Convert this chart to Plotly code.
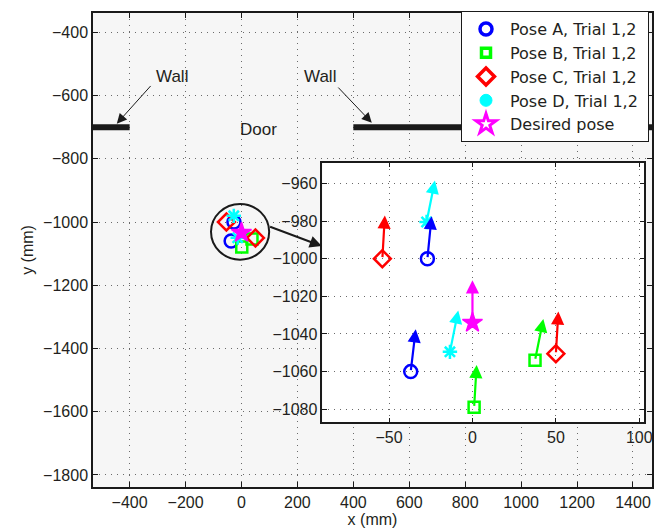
import plotly.graph_objects as go

# ---------------- data (mm) ----------------
pose_a_x = [-37, -27]
pose_a_y = [-1060, -1000]
pose_a_tip_x = [-34, -24.5]
pose_a_tip_y = [-1037.5, -977.5]

pose_b_x = [1, 37.5]
pose_b_y = [-1079, -1054]
pose_b_tip_x = [2.5, 42.5]
pose_b_tip_y = [-1056.5, -1032]

pose_c_x = [-54, 50]
pose_c_y = [-1000, -1050.5]
pose_c_tip_x = [-52.5, 51.5]
pose_c_tip_y = [-977, -1028]

pose_d_x = [-27.5, -13.5]
pose_d_y = [-980.5, -1049.5]
pose_d_tip_x = [-22.5, -8.5]
pose_d_tip_y = [-958.5, -1027.5]

desired_x = [0]
desired_y = [-1034]
desired_tip_x = [0]
desired_tip_y = [-1011.5]

legend_names = ["Pose A, Trial 1,2", "Pose B, Trial 1,2", "Pose C, Trial 1,2",
                "Pose D, Trial 1,2", "Desired pose"]

wall_left_x = [-531, -400]
wall_right_x = [400, 1468]
wall_y = [-700, -700]

main_xticks = [-400, -200, 0, 200, 400, 600, 800, 1000, 1200, 1400]
main_yticks = [-400, -600, -800, -1000, -1200, -1400, -1600, -1800]
inset_xticks = [-50, 0, 50, 100]
inset_yticks = [-960, -980, -1000, -1020, -1040, -1060, -1080]

main_xrange = [-531, 1468]
main_yrange = [-1838, -339]
inset_xrange = [-90, 103]
inset_yrange = [-1087, -949]

# ---------------- styles ----------------
FONT = "Liberation Sans, Arial, sans-serif"
LEGFONT = "DejaVu Sans, sans-serif"
TXT = "#231f20"
BLUE, GREEN, RED, CYAN, MAG = "#0000ff", "#00ff00", "#ff0000", "#00ffff", "#ff00ff"

poses = [
    (pose_a_x, pose_a_y, pose_a_tip_x, pose_a_tip_y, BLUE, "circle-open", 13),
    (pose_b_x, pose_b_y, pose_b_tip_x, pose_b_tip_y, GREEN, "square-open", 11),
    (pose_c_x, pose_c_y, pose_c_tip_x, pose_c_tip_y, RED, "diamond-open", 13),
    (pose_d_x, pose_d_y, pose_d_tip_x, pose_d_tip_y, CYAN, "asterisk-open", 12),
    (desired_x, desired_y, desired_tip_x, desired_tip_y, MAG, "star", 15),
]

fig = go.Figure()

# walls
for wx in (wall_left_x, wall_right_x):
    fig.add_trace(go.Scatter(x=wx, y=wall_y, mode="lines", line=dict(color="#1a1a1a", width=6),
                             showlegend=False, hoverinfo="skip", xaxis="x", yaxis="y"))

# main plot markers and inset markers
for px, py, tx, ty, col, sym, sz in poses:
    mk = dict(color=col, symbol=sym, size=sz, line=dict(color=col, width=2.5))
    if sym == "star":
        mk = dict(color=col, symbol=sym, size=sz, line=dict(color=col, width=1.5))
    fig.add_trace(go.Scatter(x=px, y=py, mode="markers", marker=mk, showlegend=False,
                             xaxis="x", yaxis="y"))
    fig.add_trace(go.Scatter(x=px, y=py, mode="markers", marker=mk, showlegend=False,
                             xaxis="x2", yaxis="y2"))

# legend entries
leg_markers = [
    dict(color=BLUE, symbol="circle-open", size=12, line=dict(color=BLUE, width=3.5)),
    dict(color=GREEN, symbol="square-open", size=9, line=dict(color=GREEN, width=3.5)),
    dict(color=RED, symbol="diamond-open", size=13, line=dict(color=RED, width=3.5)),
    dict(color=CYAN, symbol="circle", size=12, line=dict(color=CYAN, width=1)),
    dict(color=MAG, symbol="star-open", size=15, line=dict(color=MAG, width=3)),
]
for name, mk in zip(legend_names, leg_markers):
    fig.add_trace(go.Scatter(x=[None], y=[None], mode="markers", marker=mk,
                             name=name + "\u00a0", xaxis="x", yaxis="y"))

annotations = []
# inset heading arrows
for px, py, tx, ty, col, sym, sz in poses:
    for x0, y0, x1, y1 in zip(px, py, tx, ty):
        annotations.append(dict(x=x1, y=y1, ax=x0, ay=y0, xref="x2", yref="y2",
                                axref="x2", ayref="y2", text="", showarrow=True,
                                arrowhead=2, arrowsize=1.2, arrowwidth=2.2, arrowcolor=col,
                                standoff=0, startstandoff=0))

# wall labels and arrows
wall_label_x = [-249, 281]
wall_label_y = [-539, -539]
wall_arrow_start_x = [-320, 341]
wall_arrow_start_y = [-565, -570]
wall_arrow_end_x = [-446, 466]
wall_arrow_end_y = [-689, -686]
for lx, ly, sx, sy, ex, ey in zip(wall_label_x, wall_label_y, wall_arrow_start_x,
                                  wall_arrow_start_y, wall_arrow_end_x, wall_arrow_end_y):
    annotations.append(dict(x=lx, y=ly, xref="x", yref="y", text="Wall", showarrow=False,
                            font=dict(family=FONT, size=17, color=TXT)))
    annotations.append(dict(x=ex, y=ey, ax=sx, ay=sy, xref="x", yref="y", axref="x", ayref="y",
                            text="", showarrow=True, arrowhead=2, arrowsize=2,
                            arrowwidth=1, arrowcolor="#1a1a1a", standoff=0))
annotations.append(dict(x=60, y=-706, xref="x", yref="y", text="Door", showarrow=False,
                        font=dict(family=FONT, size=17, color=TXT)))
# zoom arrow from circle to inset
annotations.append(dict(x=287, y=-1076, ax=97, ay=-1013, xref="x", yref="y", axref="x", ayref="y",
                        text="", showarrow=True, arrowhead=2, arrowsize=1.2, arrowwidth=2,
                        arrowcolor="#1a1a1a", standoff=0))

shapes = [
    dict(type="rect", xref="x2", yref="y2", x0=inset_xrange[0], x1=inset_xrange[1],
         y0=inset_yrange[0], y1=inset_yrange[1], fillcolor="white", line=dict(width=0),
         layer="below"),
    dict(type="circle", xref="x", yref="y", x0=-109, x1=99, y0=-1119, y1=-943,
         line=dict(color="#1a1a1a", width=2)),
]

axis_common = dict(showline=True, linecolor="#1a1a1a", linewidth=1.5, mirror="ticks",
                   ticks="inside", ticklen=5, tickwidth=1, tickcolor="#1a1a1a",
                   showgrid=True, gridcolor="#6a6a6a", griddash="1px,5px", gridwidth=1,
                   zeroline=False, automargin=False,
                   tickfont=dict(family=FONT, size=16, color=TXT))

# page has an 8px body margin: work in page pixels, then shift
OFF = 8
W, H = 662 - OFF, 529 - OFF
L, R, T, B = 93 - OFF, 652 - OFF, 12 - OFF, 487 - OFF


def px_x(p):
    return (p - OFF - L) / (R - L)


def px_y(p):
    return (B - (p - OFF)) / (B - T)


fig.update_layout(
    width=W, height=H,
    margin=dict(l=L, r=W - R, t=T, b=H - B, pad=0),
    paper_bgcolor="white", plot_bgcolor="#f6f6f6",
    font=dict(family=FONT, size=16, color=TXT),
    xaxis=dict(range=main_xrange, tickvals=main_xticks, domain=[0, 1], anchor="y",
               title=dict(text="x (mm)", standoff=4, font=dict(family=FONT, size=16, color=TXT)),
               **axis_common),
    yaxis=dict(range=main_yrange, tickvals=main_yticks, domain=[0, 1], anchor="x",
               title=dict(text="y (mm)", standoff=6, font=dict(family=FONT, size=16, color=TXT)),
               **axis_common),
    xaxis2=dict(range=inset_xrange, tickvals=inset_xticks, anchor="y2",
                domain=[px_x(322.3), px_x(644.3)], **axis_common),
    yaxis2=dict(range=inset_yrange, tickvals=inset_yticks, anchor="x2",
                domain=[px_y(422.3), px_y(162)], **axis_common),
    legend=dict(x=px_x(461), y=px_y(11), xanchor="left", yanchor="top",
                bgcolor="white", bordercolor="#1a1a1a", borderwidth=1, itemwidth=38,
                font=dict(family=LEGFONT, size=16, color=TXT), tracegroupgap=0),
    shapes=shapes,
    annotations=annotations,
)

fig.write_html("out.html")
